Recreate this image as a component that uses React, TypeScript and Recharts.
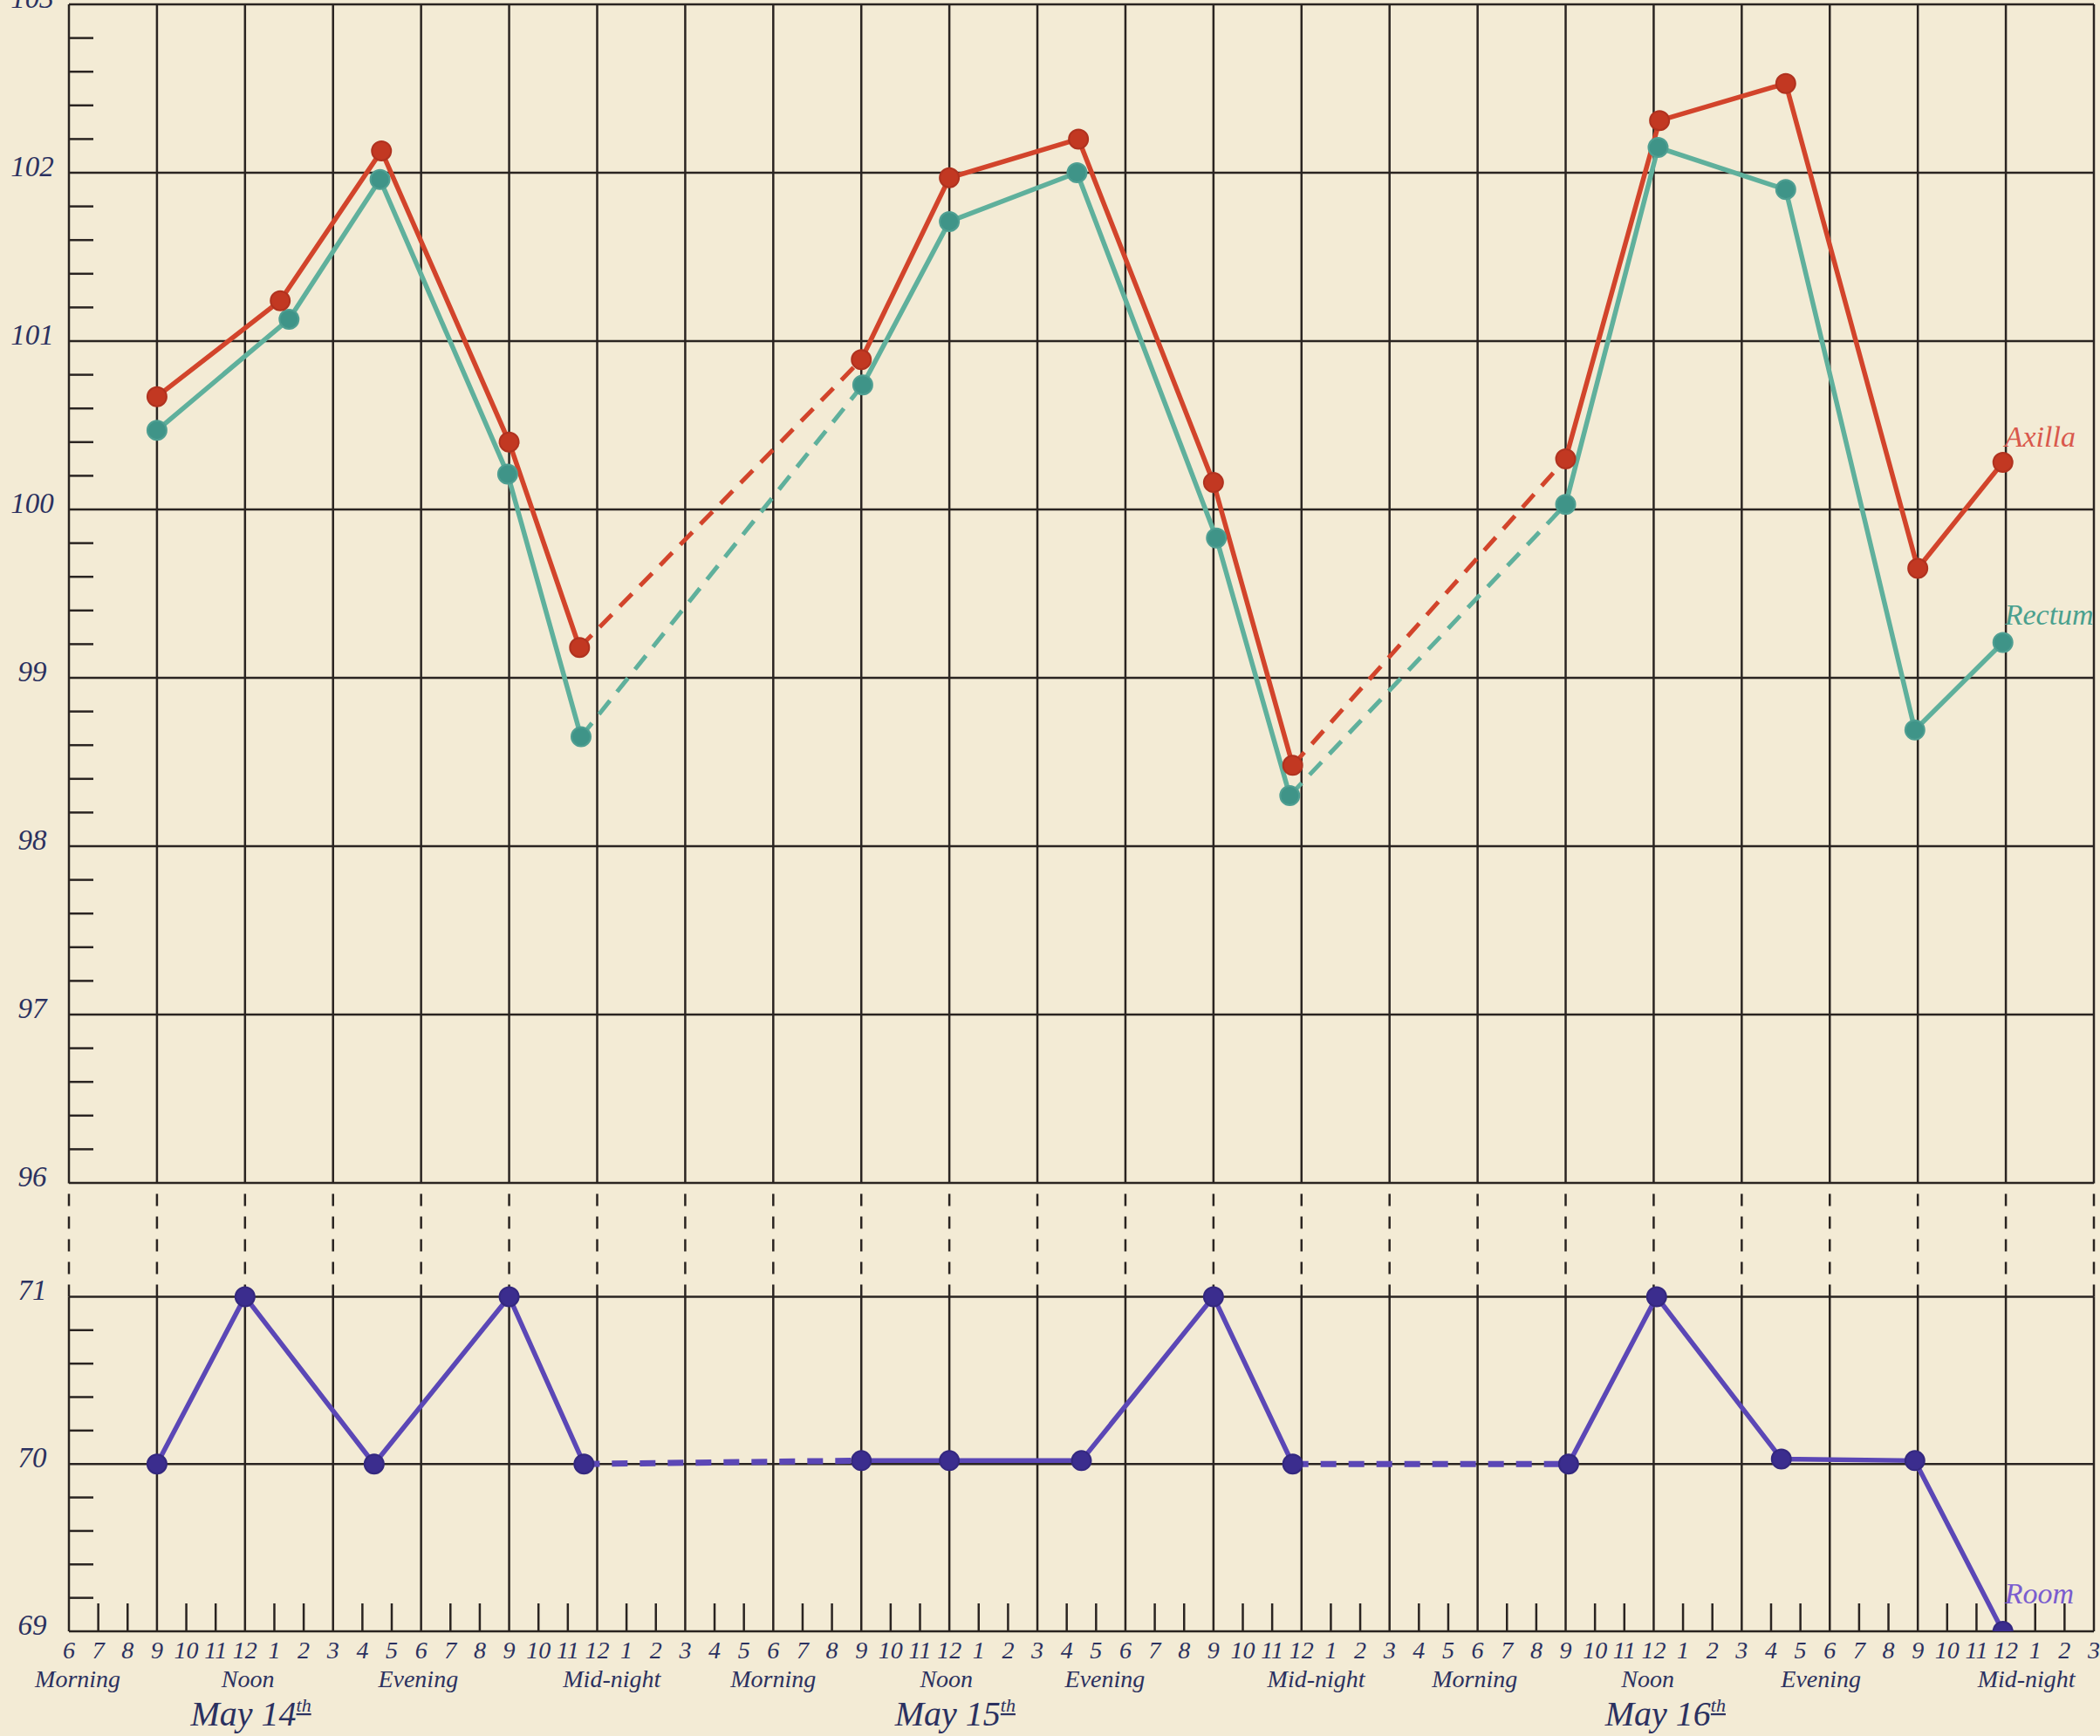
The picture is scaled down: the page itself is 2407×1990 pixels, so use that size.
import React from "react";
import { LineChart, Line, XAxis, YAxis, ReferenceLine, ReferenceDot } from "recharts";

// hours are counted from 6 a.m. on May 14th (0) to 3 a.m. on May 17th (69)
const axillaHours = [3, 7.2, 10.65, 15, 17.4, 27, 30, 34.4, 39, 41.7, 51, 54.2, 58.5, 63, 65.9];
const axillaTemps = [100.67, 101.24, 102.13, 100.4, 99.18, 100.89, 101.97, 102.2, 100.16, 98.48, 100.3, 102.31, 102.53, 99.65, 100.28];

const rectumHours = [3, 7.5, 10.6, 14.95, 17.45, 27.05, 30, 34.35, 39.1, 41.6, 51, 54.15, 58.5, 62.9, 65.9];
const rectumTemps = [100.47, 101.13, 101.96, 100.21, 98.65, 100.74, 101.71, 102.0, 99.83, 98.3, 100.03, 102.15, 101.9, 98.69, 99.21];

const roomHours = [3, 6, 10.4, 15, 17.55, 27, 30, 34.5, 39, 41.7, 51.1, 54.1, 58.35, 62.9, 65.9];
const roomTemps = [70, 71, 70, 71, 70, 70.02, 70.02, 70.02, 71, 70, 70, 71, 70.03, 70.02, 69];

// the reading after these indexes is joined with a dashed line (night gap)
const dashedAfter = [4, 9];

const clockLabels = ["6", "7", "8", "9", "10", "11", "12", "1", "2", "3", "4", "5", "6", "7", "8", "9", "10", "11", "12", "1", "2", "3", "4", "5"];
const periodHours = [0.3, 6.1, 11.9, 18.5, 24.0, 29.9, 35.3, 42.5, 47.9, 53.8, 59.7, 66.7];
const periodNames = ["Morning", "Noon", "Evening", "Mid-night", "Morning", "Noon", "Evening", "Mid-night", "Morning", "Noon", "Evening", "Mid-night"];
const dateHours = [6.2, 30.2, 54.4];
const dateNames = ["May 14", "May 15", "May 16"];

const upperDegrees = [96, 97, 98, 99, 100, 101, 102, 103];
const lowerDegrees = [69, 70, 71];

const W = 2407;
const H = 1990;
const PAPER = "#f3ebd5";
const GRID = "#2a2421";
const INK = "#2b3160";
const FONT = "'Liberation Serif', 'DejaVu Serif', serif";

const RED = "#d2442b";
const RED_DOT = "#c23822";
const TEAL = "#5fb09c";
const TEAL_DOT = "#3f9488";
const PURPLE = "#5b47b6";
const PURPLE_DOT = "#3b2d8e";

const hourTicks = Array.from({ length: 70 }, (_, i) => i);
const majorHours = hourTicks.filter((h) => h % 3 === 0);

function fifthTicks(lo: number, hi: number) {
  const out: number[] = [];
  for (let i = 0; i <= (hi - lo) * 5; i++) out.push(Math.round((lo + i * 0.2) * 10) / 10);
  return out;
}

function solidRows(hours: number[], temps: number[]) {
  const rows: { h: number; v: number | null }[] = [];
  hours.forEach((h, i) => {
    rows.push({ h, v: temps[i] });
    if (dashedAfter.includes(i)) rows.push({ h: (h + hours[i + 1]) / 2, v: null });
  });
  return rows;
}

function dashedRows(hours: number[], temps: number[]) {
  const rows: { h: number; v: number | null }[] = [];
  dashedAfter.forEach((i) => {
    rows.push({ h: hours[i], v: temps[i] });
    rows.push({ h: hours[i + 1], v: temps[i + 1] });
    rows.push({ h: (hours[i + 1] + hours[i + 2]) / 2, v: null });
  });
  return rows;
}

const DegreeTick = (props: any) => {
  const { x, y, payload } = props;
  const v = payload.value;
  if (Math.abs(v - Math.round(v)) < 1e-6) {
    return (
      <text x={x - 42} y={y - 4} textAnchor="middle" dominantBaseline="middle" fontSize={33} fontStyle="italic" fill={INK} fontFamily={FONT}>
        {v}
      </text>
    );
  }
  return <line x1={x} x2={x + 28} y1={y} y2={y} stroke={GRID} strokeWidth={2.5} />;
};

const HourTick = (props: any) => {
  const { x, y, payload } = props;
  const h = payload.value;
  return (
    <g>
      {h % 3 !== 0 && <line x1={x} x2={x} y1={y} y2={y - 32} stroke={GRID} strokeWidth={2.5} />}
      <text x={x} y={y + 31} textAnchor="middle" fontSize={28} fontStyle="italic" fill={INK} fontFamily={FONT}>
        {clockLabels[h % 24]}
      </text>
    </g>
  );
};

const PeriodTick = (props: any) => {
  const { x, y, index } = props;
  if (index < periodNames.length) {
    return (
      <text x={x} y={y + 24} textAnchor="middle" fontSize={28} fontStyle="italic" fill={INK} fontFamily={FONT}>
        {periodNames[index]}
      </text>
    );
  }
  const d = index - periodNames.length;
  return (
    <text x={x} y={y + 68} textAnchor="middle" fontSize={40} fontStyle="italic" fill={INK} fontFamily={FONT}>
      {dateNames[d]}
      <tspan fontSize={22} dy={-16} textDecoration="underline">th</tspan>
    </text>
  );
};

const nameTag = (text: string, color: string, dy: number) => (p: any) => (
  <text x={p.cx + 2} y={p.cy + dy} fontSize={34} fontStyle="italic" fill={color} fontFamily={FONT}>
    {text}
  </text>
);

export default function App() {
  const last = axillaHours.length - 1;
  return (
    <div style={{ position: "absolute", left: 0, top: 0, width: W, height: H, background: PAPER, overflow: "hidden" }}>
      <div style={{ position: "absolute", left: 0, top: 0 }}>
        <LineChart width={W} height={1380} margin={{ top: 5, right: 7, bottom: 24, left: 0 }}>
          <XAxis type="number" dataKey="h" domain={[0, 69]} hide allowDataOverflow />
          <YAxis
            type="number"
            domain={[96, 103]}
            ticks={fifthTicks(96, 103)}
            interval={0}
            width={79}
            axisLine={false}
            tickLine={false}
            tickSize={0}
            tickMargin={0}
            tick={<DegreeTick />}
            allowDataOverflow
          />
          {upperDegrees.map((d) => (
            <ReferenceLine key={"hy" + d} y={d} stroke={GRID} strokeWidth={2.5} />
          ))}
          {majorHours.map((h) => (
            <ReferenceLine key={"vx" + h} x={h} stroke={GRID} strokeWidth={2.5} />
          ))}
          <Line data={dashedRows(rectumHours, rectumTemps)} dataKey="v" stroke={TEAL} strokeWidth={5} strokeDasharray="20 13" dot={false} isAnimationActive={false} />
          <Line data={dashedRows(axillaHours, axillaTemps)} dataKey="v" stroke={RED} strokeWidth={5} strokeDasharray="20 13" dot={false} isAnimationActive={false} />
          <Line
            data={solidRows(rectumHours, rectumTemps)}
            dataKey="v"
            stroke={TEAL}
            strokeWidth={5.5}
            dot={{ r: 11, fill: TEAL_DOT, stroke: "#4f9f92", strokeWidth: 2 }}
            isAnimationActive={false}
          />
          <Line
            data={solidRows(axillaHours, axillaTemps)}
            dataKey="v"
            stroke={RED}
            strokeWidth={5.5}
            dot={{ r: 11, fill: RED_DOT, stroke: "#b0321f", strokeWidth: 2 }}
            isAnimationActive={false}
          />
          <ReferenceDot x={axillaHours[last]} y={axillaTemps[last]} r={0} shape={nameTag("Axilla", "#d9584c", -18)} />
          <ReferenceDot x={rectumHours[last]} y={rectumTemps[last]} r={0} shape={nameTag("Rectum", "#4aa08e", -20)} />
        </LineChart>
      </div>
      <div style={{ position: "absolute", left: 0, top: 1356 }}>
        <LineChart width={W} height={634} margin={{ top: 0, right: 7, bottom: 0, left: 0 }}>
          <XAxis
            type="number"
            dataKey="h"
            domain={[0, 69]}
            ticks={hourTicks}
            interval={0}
            height={40}
            axisLine={false}
            tickLine={false}
            tickSize={0}
            tickMargin={0}
            tick={<HourTick />}
            allowDataOverflow
          />
          <XAxis
            xAxisId="labels"
            type="number"
            dataKey="h"
            domain={[0, 69]}
            ticks={[...periodHours, ...dateHours]}
            interval={0}
            height={80}
            axisLine={false}
            tickLine={false}
            tickSize={0}
            tickMargin={0}
            tick={<PeriodTick />}
            allowDataOverflow
          />
          <YAxis
            type="number"
            domain={[69, 71.68]}
            ticks={fifthTicks(69, 71)}
            interval={0}
            width={79}
            axisLine={false}
            tickLine={false}
            tickSize={0}
            tickMargin={0}
            tick={<DegreeTick />}
            allowDataOverflow
          />
          {lowerDegrees.map((d) => (
            <ReferenceLine key={"ly" + d} y={d} stroke={GRID} strokeWidth={2.5} />
          ))}
          {majorHours.map((h) => (
            <ReferenceLine key={"ls" + h} segment={[{ x: h, y: 69 }, { x: h, y: 71 }]} stroke={GRID} strokeWidth={2.5} />
          ))}
          {majorHours.map((h) => (
            <ReferenceLine key={"ld" + h} segment={[{ x: h, y: 71 }, { x: h, y: 71.68 }]} stroke={GRID} strokeWidth={2.5} strokeDasharray="14 12" />
          ))}
          <Line data={dashedRows(roomHours, roomTemps)} dataKey="v" stroke={PURPLE} strokeWidth={7} strokeDasharray="18 14" dot={false} isAnimationActive={false} />
          <Line
            data={solidRows(roomHours, roomTemps)}
            dataKey="v"
            stroke={PURPLE}
            strokeWidth={5.5}
            dot={{ r: 11, fill: PURPLE_DOT, stroke: "#34287f", strokeWidth: 2 }}
            isAnimationActive={false}
          />
          <ReferenceDot x={roomHours[last]} y={roomTemps[last]} r={0} shape={nameTag("Room", "#7a5ccf", -32)} />
        </LineChart>
      </div>
    </div>
  );
}
